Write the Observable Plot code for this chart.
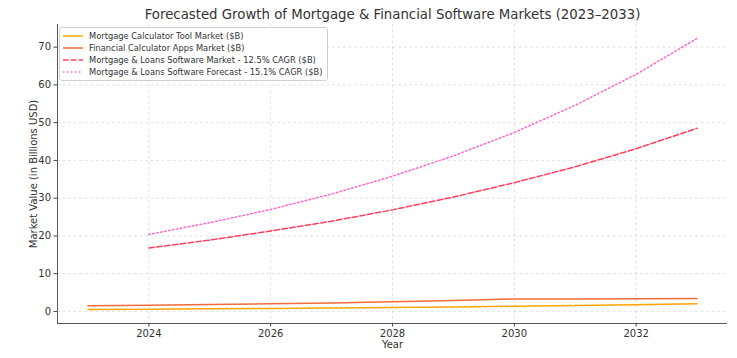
<!DOCTYPE html>
<html>
<head>
<meta charset="utf-8">
<script src="https://cdn.jsdelivr.net/npm/d3@7"></script>
<script src="https://cdn.jsdelivr.net/npm/@observablehq/plot@0.6"></script>
<style>
  html, body { margin: 0; padding: 0; background: #fff; }
  #wrap { position: relative; width: 737px; height: 358px; font-family: "DejaVu Sans", sans-serif; }
  #legend { position: absolute; left: 59px; top: 27px; padding: 2px 5px 2px 0;
    border: 1px solid #d0d0d0; border-radius: 3px; background: rgba(255,255,255,0.85);
    font-size: 8.3px; color: #333; white-space: nowrap; }
  .row { display: flex; align-items: center; height: 12px; }
  .row svg { margin: 0 6px 0 3px; flex: none; }
</style>
</head>
<body>
<div id="wrap"><div id="chart"></div><div id="legend"></div></div>
<script>
const years = [2023, 2024, 2025, 2026, 2027, 2028, 2029, 2030, 2031, 2032, 2033];
const mortgageTool = [0.5, 0.6, 0.7, 0.8, 0.9, 1.05, 1.2, 1.35, 1.55, 1.75, 2.0];
const financialApps = [1.5, 1.65, 1.8, 2.0, 2.25, 2.55, 2.9, 3.3, 3.3, 3.35, 3.4];
const loanYears = [2024, 2025, 2026, 2027, 2028, 2029, 2030, 2031, 2032, 2033];
const loanMarket125 = [16.8, 18.9, 21.3, 23.9, 26.9, 30.3, 34.1, 38.3, 43.1, 48.5];
const loanForecast151 = [20.4, 23.5, 27.0, 31.1, 35.8, 41.2, 47.4, 54.6, 62.8, 72.3];
const xTicks = [2024, 2026, 2028, 2030, 2032];
const yTicks = [0, 10, 20, 30, 40, 50, 60, 70];

const seriesNames = [
  "Mortgage Calculator Tool Market ($B)",
  "Financial Calculator Apps Market ($B)",
  "Mortgage & Loans Software Market - 12.5% CAGR ($B)",
  "Mortgage & Loans Software Forecast - 15.1% CAGR ($B)"
];
const colors = ["#FFA500", "#F26B38", "#FF3F5F", "#FF66CC"];
const dashes = [null, null, "5.5,2.4", "1.5,2.5"];

const toRows = (xs, ys) => xs.map((x, i) => ({x, y: ys[i]}));
const data = [
  toRows(years, mortgageTool),
  toRows(years, financialApps),
  toRows(loanYears, loanMarket125),
  toRows(loanYears, loanForecast151)
];

const xDom = [2022.5, 2033.5];
const yDom = [-3.2, 76];

const chart = Plot.plot({
  width: 737,
  height: 358,
  marginLeft: 57,
  marginRight: 10,
  marginTop: 24,
  marginBottom: 35,
  style: {fontFamily: "DejaVu Sans, sans-serif", fontSize: "10px", color: "#333", background: "#fff"},
  x: {domain: xDom, ticks: xTicks, tickFormat: d => String(d), label: null},
  y: {domain: yDom, ticks: yTicks, label: null},
  marks: [
    Plot.gridX(xTicks, {stroke: "#b0b0b0", strokeOpacity: 0.45, strokeDasharray: "3,2.5", strokeWidth: 0.8}),
    Plot.gridY(yTicks, {stroke: "#b0b0b0", strokeOpacity: 0.45, strokeDasharray: "3,2.5", strokeWidth: 0.8}),
    Plot.axisX({ticks: xTicks, tickFormat: d => String(d), tickSize: 3.5, tickPadding: 3, fontSize: 10, label: null, stroke: "#444", fill: "#333"}),
    Plot.axisY({ticks: yTicks, tickSize: 3.5, tickPadding: 3, fontSize: 10, label: null, stroke: "#444", fill: "#333"}),
    Plot.ruleX([xDom[0]], {stroke: "#444", strokeWidth: 0.9}),
    Plot.ruleY([yDom[0]], {stroke: "#444", strokeWidth: 0.9}),
    ...data.map((d, i) => Plot.line(d, {x: "x", y: "y", stroke: colors[i], strokeWidth: 1.5, strokeDasharray: dashes[i]})),
    Plot.text(["Forecasted Growth of Mortgage & Financial Software Markets (2023\u20132033)"], {
      frameAnchor: "top", lineAnchor: "middle", dy: -10, fontSize: 13.3, fill: "#333"
    }),
    Plot.text(["Year"], {frameAnchor: "bottom", lineAnchor: "middle", dy: 21, fontSize: 10, fill: "#333"}),
    Plot.text(["Market Value (in Billions USD)"], {frameAnchor: "left", textAnchor: "middle", lineAnchor: "middle", dx: -24, rotate: -90, fontSize: 10, fill: "#333"})
  ]
});
document.getElementById("chart").appendChild(chart);

const legend = document.getElementById("legend");
seriesNames.forEach((name, i) => {
  const row = document.createElement("div");
  row.className = "row";
  const dash = dashes[i] ? `stroke-dasharray="${dashes[i]}"` : "";
  row.innerHTML = `<svg width="20" height="6"><line x1="0" y1="3" x2="20" y2="3" stroke="${colors[i]}" stroke-width="1.5" ${dash}/></svg><span>${name}</span>`;
  legend.appendChild(row);
});
</script>
</body>
</html>
